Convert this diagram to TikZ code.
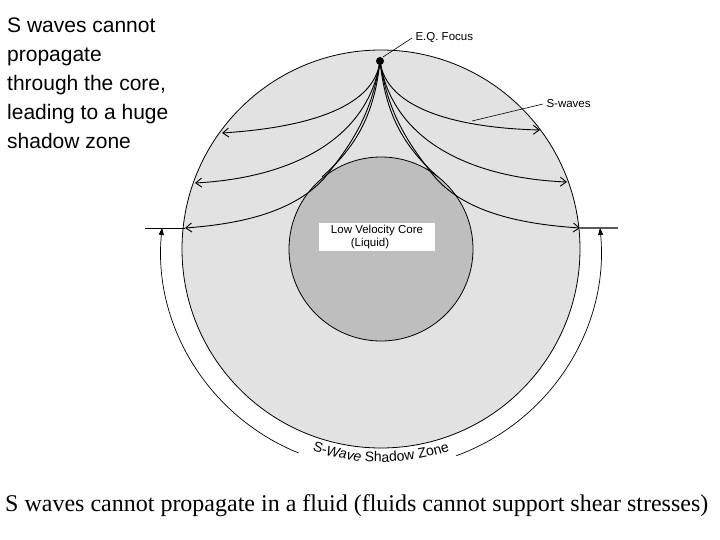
\documentclass[tikz,border=0pt]{standalone}
\usepackage{fontspec}
\setmainfont{Liberation Serif}
\setsansfont{Liberation Sans}
\usetikzlibrary{arrows.meta,decorations.text}
\begin{document}
\begin{tikzpicture}[x=1pt,y=-1pt,
  ray/.style={line width=0.9pt,-{Straight Barb[length=6pt,width=9pt]}},
  rayend/.style={line width=0.9pt},
  small/.style={font=\sffamily\fontsize{11.5}{12.5}\selectfont}]
\useasboundingbox (0,0) rectangle (720,540);
\fill[white] (0,0) rectangle (720,540);
\coordinate (C) at (381,249);
\draw[fill={rgb,255:red,226;green,226;blue,226},line width=0.8pt] (C) circle[radius=199];
\draw[fill={rgb,255:red,190;green,190;blue,190},line width=0.8pt] (C) circle[radius=92];
\coordinate (F) at (380,61);
% left rays
\draw[ray] (F) .. controls (374,110) and (300,128) .. (222,133);
\draw[ray] (F) .. controls (368,140) and (290,178) .. (195,183);
\draw[ray] (F) .. controls (372,115) and (350,145) .. (330,171) .. controls (300,212) and (240,224) .. (185,228);
\draw[rayend] (F) .. controls (374,120) and (352,150) .. (322,177);
% right rays
\draw[ray] (F) .. controls (386,110) and (460,128) .. (540,130);
\draw[ray] (F) .. controls (392,140) and (470,178) .. (567,182);
\draw[ray] (F) .. controls (388,115) and (410,145) .. (430,171) .. controls (460,212) and (520,224) .. (580,228);
\draw[rayend] (F) .. controls (386,120) and (408,150) .. (438,177);
\fill (F) circle[radius=4];
% labels
\node[small,anchor=west] (eq) at (412,38) {E.Q. Focus};
\draw[line width=0.6pt] (383,57) -- (eq.west);
\node[small,anchor=west] (sw) at (543,104) {S-waves};
\draw[line width=0.6pt] (472,121) -- (sw.west);
\node[small,fill=white,align=center,inner sep=2pt,minimum width=116pt] (core) at (377,237) {Low Velocity Core\\\hspace*{-14pt}(Liquid)};
% shadow zone
\draw[line width=0.8pt] (145,228) -- (185,228);
\draw[line width=1.4pt,gray!70!black] (580,228) -- (618,228);
\draw[line width=0.7pt,-{Triangle[length=7pt,width=5pt]}] (C) ++(112:220) arc[start angle=112,end angle=185.5,radius=220];
\draw[line width=0.7pt,-{Triangle[length=7pt,width=5pt]}] (C) ++(70:220) arc[start angle=70,end angle=-5.5,radius=220];
\path[decorate,decoration={text along path,text align=center,text={|\sffamily\fontsize{14}{14}\selectfont|S-{\itshape Wave} Shadow Zone}}]
  (C) ++(113:213) arc[start angle=113,end angle=67,radius=213];
% texts
\node[anchor=north west,align=left,font=\sffamily\fontsize{21}{29}\selectfont,inner sep=0pt] (t1) at (7,18) {S waves cannot\\propagate\\through the core,\\leading to a huge\\shadow zone};
\node[anchor=west,font=\fontsize{24}{26}\selectfont,inner sep=0pt] (t2) at (5,506) {S waves cannot propagate in a fluid (fluids cannot support shear stresses)};
\end{tikzpicture}
\end{document}
